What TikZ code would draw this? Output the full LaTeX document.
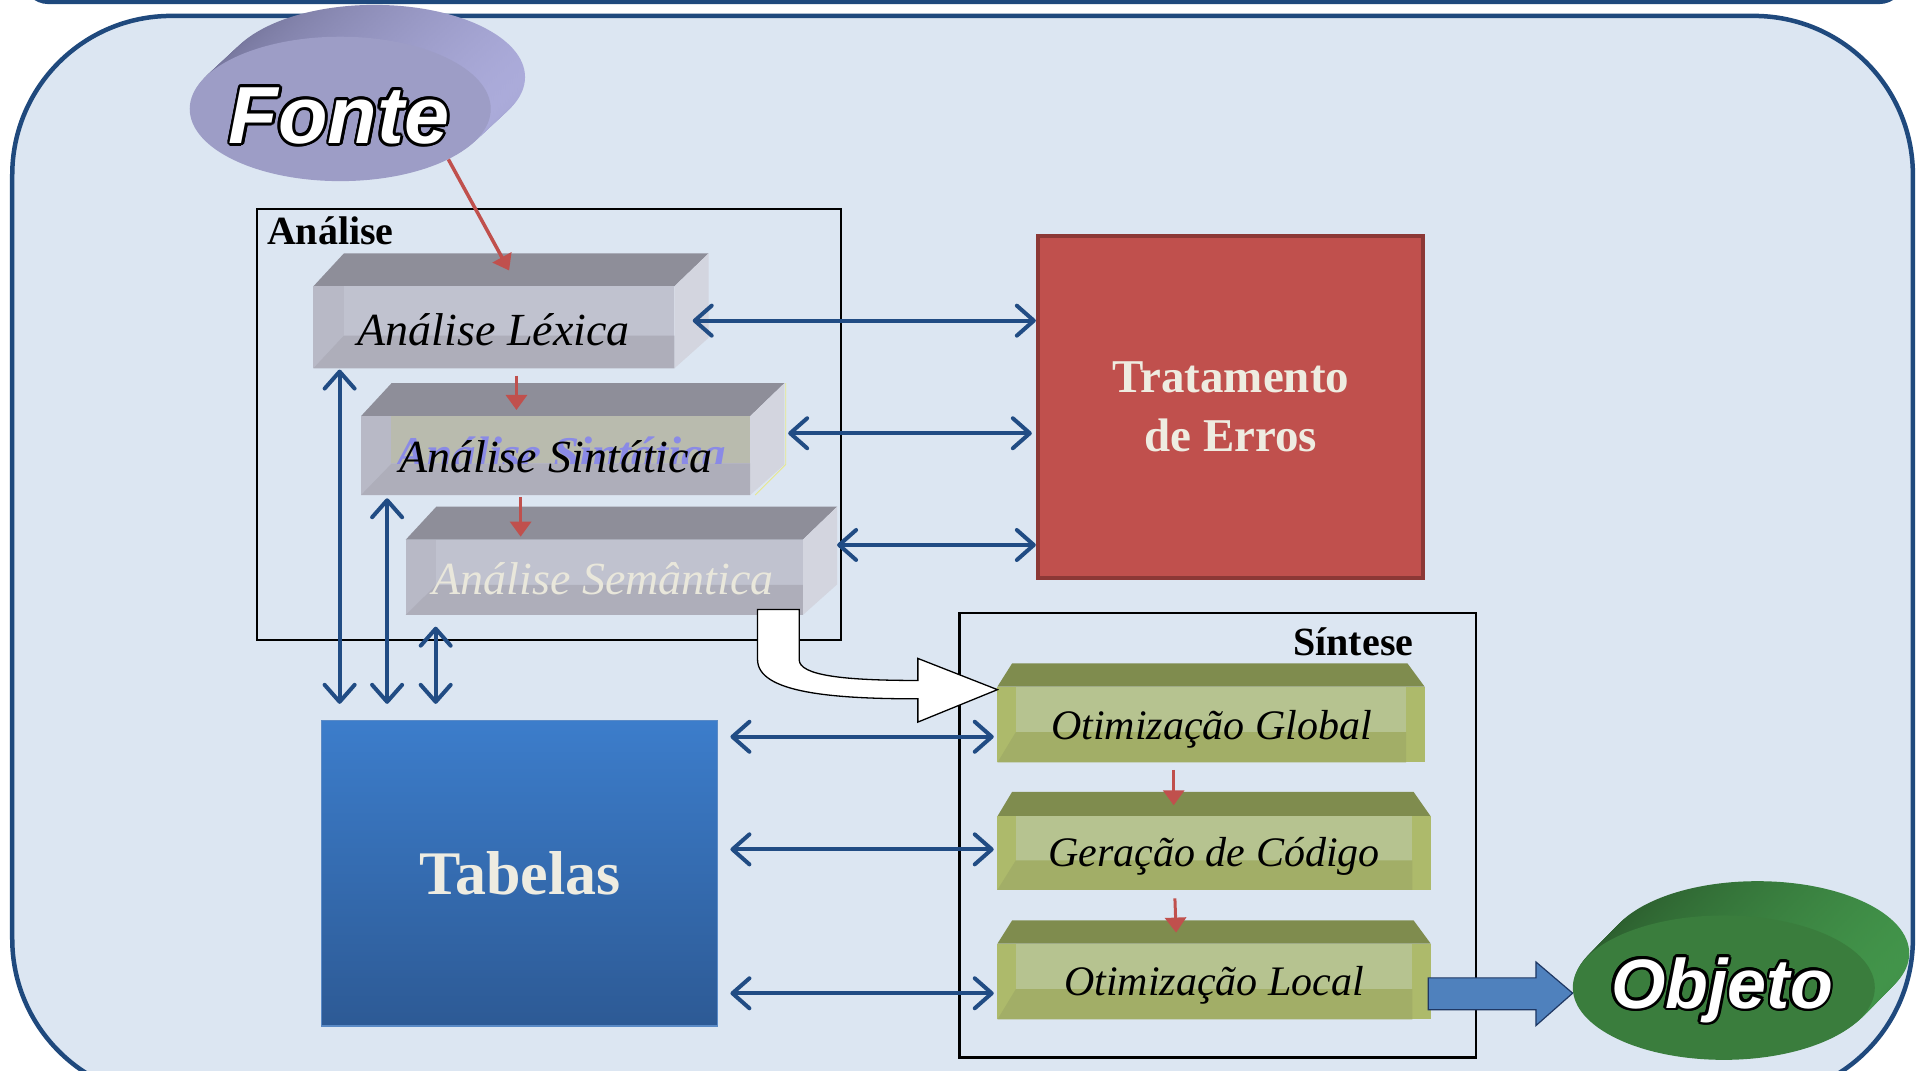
\documentclass[tikz,border=0pt]{standalone}
\usepackage{fontspec}
\setmainfont{Liberation Serif}
\newfontfamily\sansf{Liberation Sans}
\usetikzlibrary{arrows.meta,calc,fit,shapes.geometric}
\definecolor{bgblue}{HTML}{DCE6F2}
\definecolor{bordblue}{HTML}{1F497D}
\definecolor{arrblue}{HTML}{214C84}
\definecolor{redarr}{HTML}{C0504D}
\definecolor{cream}{HTML}{EEECE1}
\definecolor{semcream}{HTML}{E9E7DB}
\definecolor{gtop}{HTML}{8E8E99}
\definecolor{gside}{HTML}{D3D5DF}
\definecolor{gstrip}{HTML}{B8B9C6}
\definecolor{gup}{HTML}{C0C2CF}
\definecolor{glow}{HTML}{AEAEBA}
\definecolor{gkhaki}{HTML}{B9BBAE}
\definecolor{ghostc}{HTML}{8A8AE6}
\definecolor{otop}{HTML}{7F8C4E}
\definecolor{oup}{HTML}{B6C390}
\definecolor{ostrip}{HTML}{ADBA6B}
\definecolor{olow}{HTML}{A2AE67}
\definecolor{errred}{HTML}{C0504D}
\definecolor{errborder}{HTML}{8C3836}
\definecolor{tabtop}{HTML}{3C7DCB}
\definecolor{tabbot}{HTML}{2D5A95}
\definecolor{tabborder}{HTML}{5A8AC6}
\definecolor{fsideA}{HTML}{74749A}
\definecolor{fsideB}{HTML}{ABABDA}
\definecolor{ffront}{HTML}{9D9DC6}
\definecolor{osideA}{HTML}{2B5C2D}
\definecolor{osideB}{HTML}{42944A}
\definecolor{ofront}{HTML}{3A7D3D}
\definecolor{arrfill}{HTML}{4F81BD}
\definecolor{arrdark}{HTML}{1F3864}
\definecolor{yel}{HTML}{E8E88A}

\tikzset{
  bluedbl/.style={draw=arrblue, line width=4pt,
    {Straight Barb[length=17pt,width=30pt,round]}-{Straight Barb[length=17pt,width=30pt,round]}},
  redarrow/.style={draw=redarr, line width=3pt, -{Triangle[length=15pt,width=21pt]}},
  blocktxt/.style={anchor=base, inner sep=0pt, font=\itshape\fontsize{46}{50}\selectfont},
  greentxt/.style={anchor=base, inner sep=0pt, font=\itshape\fontsize{42}{46}\selectfont},
  grouplabel/.style={inner sep=0pt, font=\bfseries\fontsize{40}{44}\selectfont},
  groupbox/.style={draw=black, line width=2.2pt, inner sep=0pt},
  outlinebk/.style={anchor=base, inner sep=0pt, text=black},
  outlinewh/.style={anchor=base, inner sep=0pt, text=white},
}

% grey 3D block: name, L, T, R, B
\newcommand\gblk[5]{%
  \fill[gtop] (#2,#3) -- (#2+25,#3-27) -- (#4+28,#3-27) -- (#4,#3) -- cycle;
  \fill[gside] (#4,#3) -- (#4+28,#3-27) -- (#4+28,#5-25) -- (#4,#5) -- cycle;
  \fill[gstrip] (#2,#3) rectangle (#2+25,#5);
  \fill[gup] (#2+25,#3) rectangle (#4,#5);
  \fill[glow] (#2,#5) -- (#2+25,{#3+0.6*(#5-#3)}) -- (#4,{#3+0.6*(#5-#3)}) -- (#4,#5) -- cycle;
  \node[fit={(#2,#3) (#4,#5)}, inner sep=0pt] (#1) {};
}
% olive bevel block: name, L, Ttop, T, R, B
\newcommand\oblk[6]{%
  \fill[otop] (#2,#4) -- (#2+12,#3) -- (#5-14,#3) -- (#5,#4) -- cycle;
  \fill[oup] (#2,#4) rectangle (#5,#6);
  \fill[ostrip] (#2,#4) rectangle (#2+15,#6);
  \fill[ostrip] (#5-15,#4) rectangle (#5,#6);
  \fill[olow] (#2,#6) -- (#2+15,{#4+0.6*(#6-#4)}) -- (#5-15,{#4+0.6*(#6-#4)}) -- (#5-15,#6) -- cycle;
  \node[fit={(#2,#3) (#5,#6)}, inner sep=0pt] (#1) {};
}
% outlined text: coordinate, name, font, text
\newcommand\outl[4]{%
  \foreach \a in {0,24,...,336}{%
    \node[outlinebk, font=#3, xshift={2.8pt*cos(\a)}, yshift={2.8pt*sin(\a)}] (#2-\a) at (#1) {#4};}
  \node[outlinewh, font=#3] (#2) at (#1) {#4};
}

\begin{document}
\begin{tikzpicture}[x=1.2239pt,y=-1.2239pt]
\useasboundingbox (0,0) rectangle (1568,875);
\clip (0,0) rectangle (1568,875);
\fill[white] (0,0) rectangle (1568,875);

% frames
\draw[draw=bordblue, line width=4.5pt, rounded corners=24pt] (20,-60) -- (20,1.5) -- (1555,1.5) -- (1555,-60);
\draw[draw=bordblue, fill=bgblue, line width=4.5pt, rounded corners=159pt] (10,13) rectangle (1563,897);

% group boxes
\node[groupbox, fit={(210,171) (687,523)}] (anbox) {};
\node[grouplabel, anchor=base west] (anlabel) at (218,199.4) {Análise};
\node[groupbox, fit={(784,501) (1206,864)}] (sibox) {};
\node[grouplabel, anchor=base east] (silabel) at (1155,535.2) {Síntese};

% analysis blocks
\gblk{lex}{256}{234}{551}{301}
\gblk{sin}{295}{340}{613}{404.5}
\gblk{sem}{331.5}{441}{656}{502.5}
\fill[gkhaki] (319.5,340) rectangle (613,378.7);
\begin{scope}
  \clip (319.5,340) rectangle (613,378.7);
  \node[blocktxt, font=\bfseries\itshape\fontsize{47}{50}\selectfont, text=ghostc] (singhost) at (458,384) {Análise Sintática};
\end{scope}
\draw[yel, line width=0.9pt] (642,313) -- (642,379.5) -- (617,404.5);
\node[blocktxt] (lextxt) at (403.5,282) {Análise Léxica};
\node[blocktxt] (sintxt) at (454,386) {Análise Sintática};
\node[blocktxt, text=semcream] (semtxt) at (493,485.4) {Análise Semântica};

% synthesis blocks
\oblk{glob}{815}{542}{561}{1164}{623}
\oblk{ger}{815}{647}{667}{1169}{727}
\oblk{loc}{815}{752}{771}{1169}{833}
\node[greentxt] (globtxt) at (990,604.6) {Otimização Global};
\node[greentxt] (gertxt) at (992,708.1) {Geração de Código};
\node[greentxt] (loctxt) at (992,813.5) {Otimização Local};

% error box
\node[draw=errborder, fill=errred, line width=4pt, inner sep=0pt, fit={(848,193) (1163,472)}] (err) {};
\node[text=cream, align=center, inner sep=0pt, font=\bfseries\fontsize{47}{58.7}\selectfont] (errtxt) at (1005.7,332.5) {Tratamento\\de Erros};

% tables box
\node[draw=tabborder, line width=1.5pt, top color=tabtop, bottom color=tabbot, inner sep=0pt, fit={(262.7,588.8) (586.4,838.3)}] (tab) {};
\node[anchor=base, inner sep=0pt, text=cream, font=\bfseries\fontsize{62}{66}\selectfont] (tabtxt) at (425,731.2) {Tabelas};

% Fonte disc
\coordinate (fonteback) at (306,63);
\coordinate (fontefront) at (278,89);
\foreach \t in {0,0.05,...,1.0}{\shade[left color=fsideA, right color=fsideB] ($(fonteback)!\t!(fontefront)$) ellipse (123 and 59);}
\node[ellipse, fill=ffront, minimum width=301pt, minimum height=144.4pt, inner sep=0pt] (fonte) at (fontefront) {};
\outl{277,117.1}{fontetxt}{\sansf\bfseries\itshape\fontsize{81}{90}\selectfont}{Fonte}

% Objeto disc
\coordinate (objback) at (1436,779);
\coordinate (objfront) at (1408.5,807);
\foreach \t in {0,0.05,...,1.0}{\shade[left color=osideA, right color=osideB] ($(objback)!\t!(objfront)$) ellipse (124 and 59);}
\node[ellipse, fill=ofront, minimum width=302pt, minimum height=144.4pt, inner sep=0pt] (objeto) at (objfront) {};
\outl{1407,823.7}{objtxt}{\sansf\bfseries\itshape\fontsize{70}{78}\selectfont}{Objeto}

% red flow arrows
\coordinate (lexin) at (416,221);
\draw[redarrow, line width=3.5pt] (fonte.-25) -- (lexin);
\coordinate (r1s) at (422,307);   \coordinate (r1e) at (422,335);
\coordinate (r2s) at (425.4,406); \coordinate (r2e) at (425.4,438.5);
\coordinate (r3s) at (959,629);   \coordinate (r3e) at (959,658);
\coordinate (r4s) at (960,734);   \coordinate (r4e) at (961,762);
\draw[redarrow] (r1s) -- (r1e);
\draw[redarrow] (r2s) -- (r2e);
\draw[redarrow] (r3s) -- (r3e);
\draw[redarrow] (r4s) -- (r4e);

% arrows to error handling
\coordinate (lexR) at (566,262);
\coordinate (sinR) at (644,354);
\coordinate (semR) at (684,445.3);
\draw[bluedbl] (lexR) -- (lexR -| err.west);
\draw[bluedbl, shorten >=4pt] (sinR) -- (sinR -| err.west);
\draw[bluedbl] (semR) -- (semR -| err.west);

% arrows analysis <-> tables
\coordinate (col1) at (277.5,0);
\coordinate (col2) at (316.3,0);
\coordinate (col3) at (356,0);
\draw[bluedbl, shorten <=1pt, shorten >=16pt] (col1 |- lex.south) -- (col1 |- tab.north);
\draw[bluedbl, shorten <=3pt, shorten >=16pt] (col2 |- sin.south) -- (col2 |- tab.north);
\draw[bluedbl, shorten <=11.5pt, shorten >=16pt] (col3 |- sem.south) -- (col3 |- tab.north);

% arrows tables <-> synthesis
\coordinate (row1) at (0,602);
\coordinate (row2) at (0,694);
\coordinate (row3) at (0,811.6);
\draw[bluedbl, shorten <=12pt, shorten >=3.5pt] (tab.east |- row1) -- (glob.west |- row1);
\draw[bluedbl, shorten <=12pt, shorten >=3.5pt] (tab.east |- row2) -- (ger.west |- row2);
\draw[bluedbl, shorten <=12pt, shorten >=3.5pt] (tab.east |- row3) -- (loc.west |- row3);

% white bent arrow from analysis to synthesis
\draw[fill=white, draw=black, line width=1.3pt, line join=miter]
  (619,498) -- (619,539) .. controls (619,566) and (680,571) .. (750,571)
  -- (750,590) -- (815,563.5) -- (750,538) -- (750,556)
  .. controls (690,556) and (653,552) .. (653,539) -- (653,498) -- cycle;

% blue block arrow to Objeto
\draw[fill=arrfill, draw=arrdark, line width=1.2pt]
  (1167,799) -- (1255,799) -- (1255,786) -- (1285,811.5) -- (1255,838) -- (1255,825) -- (1167,825) -- cycle;
\end{tikzpicture}
\end{document}
